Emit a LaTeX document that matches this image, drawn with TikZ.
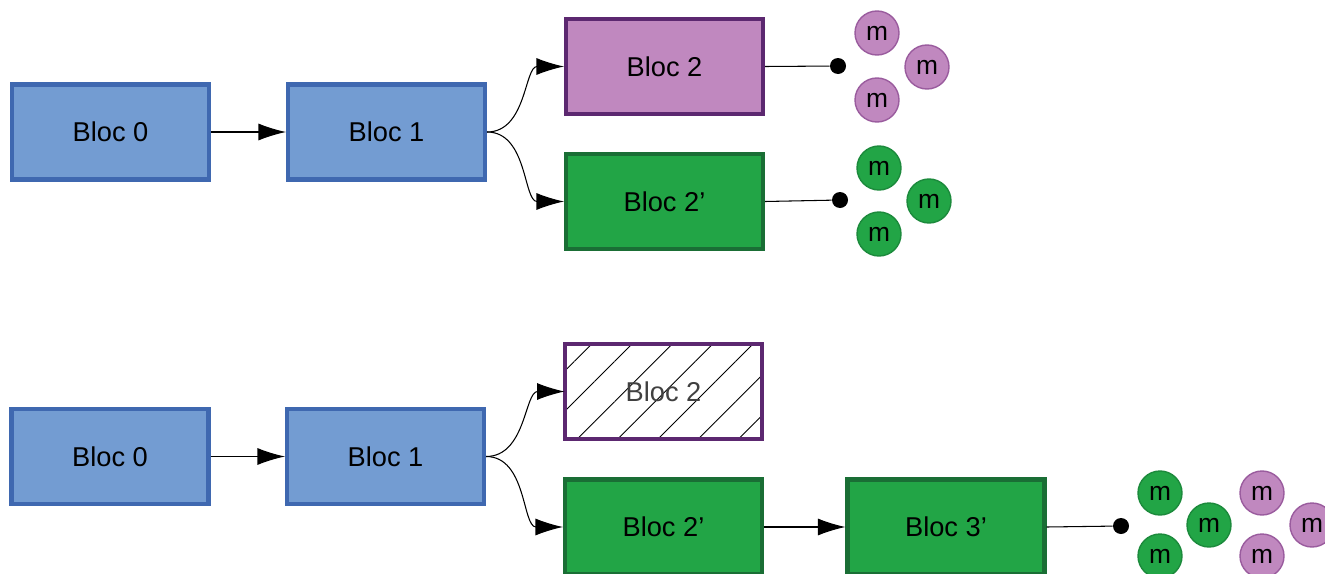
\documentclass[tikz,border=0pt]{standalone}
\usepackage{fontspec}
\setmainfont{Liberation Sans}
\usetikzlibrary{shapes,arrows.meta,patterns.meta}

\definecolor{blocblue}{HTML}{739CD2}
\definecolor{blocblueline}{HTML}{3F68B0}
\definecolor{blocpurple}{HTML}{C088BF}
\definecolor{blocpurpleline}{HTML}{5C2870}
\definecolor{blocgreen}{HTML}{22A546}
\definecolor{blocgreenline}{HTML}{1A6E35}
\definecolor{mpurpleline}{HTML}{9A5C9E}
\definecolor{mgreenline}{HTML}{1C8A3C}

\tikzset{
	bloc/.style={draw, rectangle, line width=2.3pt, minimum width=3.94cm, minimum height=1.9cm, font=\fontsize{15.5}{18}\selectfont},
	blocz/.style={bloc, fill=blocblue, draw=blocblueline},
	blocv/.style={bloc, fill=blocpurple, draw=blocpurpleline},
	blocg/.style={bloc, fill=blocgreen, draw=blocgreenline},
	bloch/.style={bloc, draw=blocpurpleline, text=black!75, pattern={Lines[angle=45,distance=0.57cm,line width=0.5pt]}},
	msg/.style={draw, circle, line width=0.8pt, minimum size=0.88cm, inner sep=0pt, font=\fontsize{15}{18}\selectfont},
	msgv/.style={msg, fill=blocpurple, draw=mpurpleline},
	msgg/.style={msg, fill=blocgreen, draw=mgreenline},
	pin/.style={fill=black, circle, inner sep=0pt, minimum size=0.32cm},
	fleche/.style={-{Latex[length=5.5mm,width=3.4mm]}, line width=0.6pt}
}

\begin{document}
\begin{tikzpicture}
	\clip (0,0) rectangle (26.5,-11.46);
	
	\node [blocz] (A0) at (2.21,-2.64){Bloc 0};
	\node [blocz] (A1) at (7.73,-2.64){Bloc 1};
	\node [blocv] (A2) at (13.29,-1.33){Bloc 2};
	\node [blocg] (A2p) at (13.29,-4.03){Bloc 2’};
	
	\node [pin] (P2) at (16.76,-1.32){};
	\node [msgv] (Ma) at (17.54,-0.66){m};
	\node [msgv] (Mb) at (18.54,-1.34){m};
	\node [msgv] (Mc) at (17.54,-2.0){m};
	
	\node [pin] (P2p) at (16.8,-4.0){};
	\node [msgg] (Md) at (17.58,-3.36){m};
	\node [msgg] (Me) at (18.58,-4.02){m};
	\node [msgg] (Mf) at (17.58,-4.68){m};
	
	\draw[fleche] (A0) -- (A1);
	\draw[fleche] (A1.east) to[out=0,in=180] (A2.west);
	\draw[fleche] (A1.east) to[out=0,in=180] (A2p.west);
	\draw[line width=0.6pt] (A2.east) -- (P2);
	\draw[line width=0.6pt] (A2p.east) -- (P2p);
	
	\node [blocz] (B0) at (2.2,-9.13){Bloc 0};
	\node [blocz] (B1) at (7.71,-9.13){Bloc 1};
	\node [bloch] (B2) at (13.27,-7.83){Bloc 2};
	\node [blocg] (B2p) at (13.27,-10.54){Bloc 2’};
	\node [blocg] (B3p) at (18.92,-10.54){Bloc 3’};
	
	\node [pin] (P3p) at (22.42,-10.52){};
	\node [msgg] (Mg) at (23.2,-9.86){m};
	\node [msgg] (Mh) at (24.18,-10.5){m};
	\node [msgg] (Mi) at (23.2,-11.12){m};
	\node [msgv] (Mj) at (25.24,-9.86){m};
	\node [msgv] (Mk) at (26.24,-10.5){m};
	\node [msgv] (Ml) at (25.24,-11.12){m};
	
	\draw[fleche] (B0) -- (B1);
	\draw[fleche] (B1.east) to[out=0,in=180] (B2.west);
	\draw[fleche] (B1.east) to[out=0,in=180] (B2p.west);
	\draw[fleche] (B2p) -- (B3p);
	\draw[line width=0.6pt] (B3p.east) -- (P3p);
	
\end{tikzpicture}
\end{document}
